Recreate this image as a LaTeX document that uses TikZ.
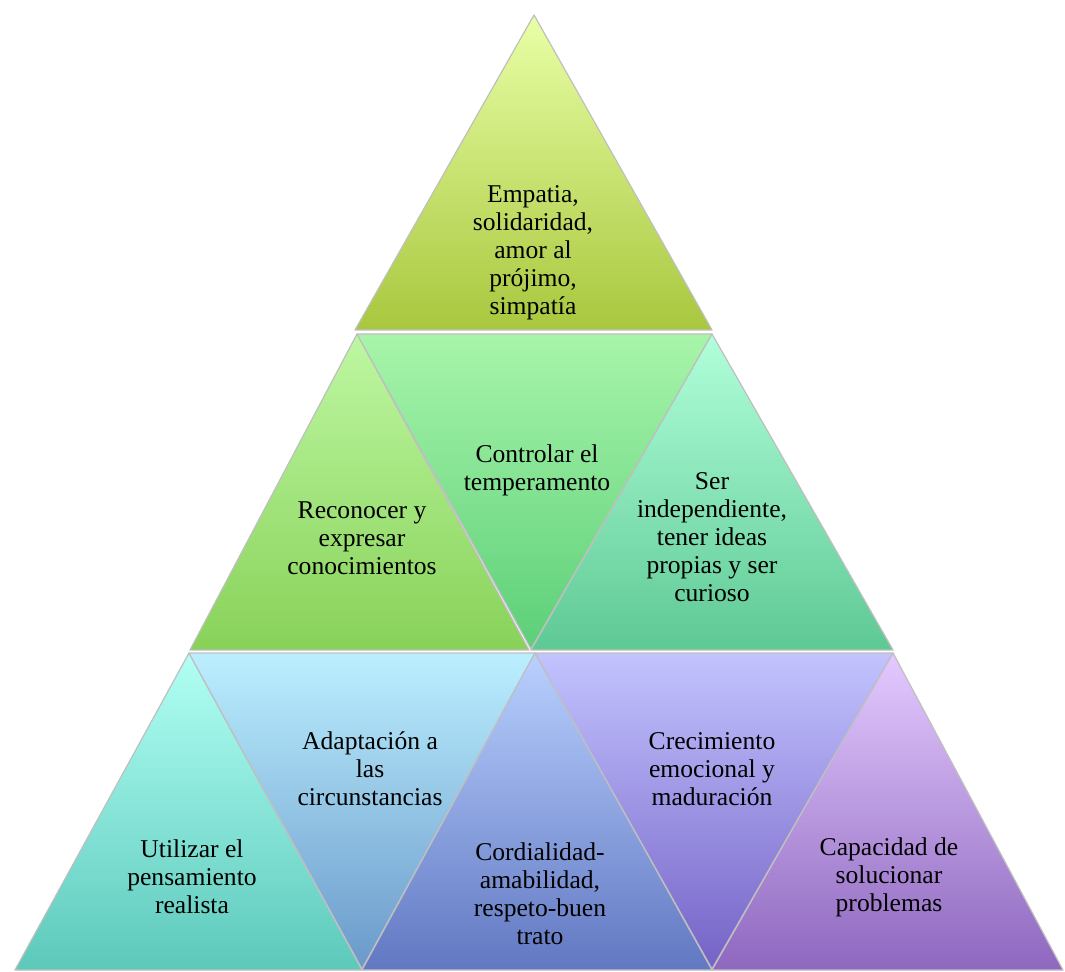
\documentclass[tikz,border=0pt]{standalone}
\usepackage{fontspec}
\setmainfont{Liberation Serif}
\definecolor{empT}{HTML}{E9FFA6}\definecolor{empB}{HTML}{A9C73E}
\definecolor{recT}{HTML}{BEF7A2}\definecolor{recB}{HTML}{88D259}
\definecolor{conT}{HTML}{A8F5AA}\definecolor{conB}{HTML}{5CCF78}
\definecolor{serT}{HTML}{B1FFDA}\definecolor{serB}{HTML}{5EC994}
\definecolor{utiT}{HTML}{B2FFF4}\definecolor{utiB}{HTML}{5CC9BB}
\definecolor{adaT}{HTML}{BBEFFF}\definecolor{adaB}{HTML}{6A99CA}
\definecolor{corT}{HTML}{B9D0FF}\definecolor{corB}{HTML}{6178C2}
\definecolor{creT}{HTML}{C3C3FF}\definecolor{creB}{HTML}{7462C6}
\definecolor{capT}{HTML}{E4CAFF}\definecolor{capB}{HTML}{8E67BF}
\begin{document}
\begin{tikzpicture}[x=0.5pt,y=-0.5pt,line join=round]
				\tikzset{tri/.style={draw=black!25,line width=0.6pt},
					lbl/.style={align=center,inner sep=0pt,font=\fontsize{12.8}{14}\selectfont}}
				\useasboundingbox (0,0) rectangle (1065,972);
				% top row
				\shade[tri,top color=empT,bottom color=empB] (534,15)--(712,330)--(355,330)--cycle;
				% middle row
				\shade[tri,top color=recT,bottom color=recB] (357,334)--(529,650)--(190,650)--cycle;
				\shade[tri,top color=conT,bottom color=conB] (357,334)--(712,334)--(531,649)--cycle;
				\shade[tri,top color=serT,bottom color=serB] (712,334)--(893,650)--(531,650)--cycle;
				% bottom row
				\shade[tri,top color=utiT,bottom color=utiB] (189,653)--(362,970)--(15,970)--cycle;
				\shade[tri,top color=adaT,bottom color=adaB] (189,653)--(535,653)--(362,969)--cycle;
				\shade[tri,top color=corT,bottom color=corB] (535,653)--(712,970)--(362,970)--cycle;
				\shade[tri,top color=creT,bottom color=creB] (535,653)--(893,653)--(712,969)--cycle;
				\shade[tri,top color=capT,bottom color=capB] (893,653)--(1063,970)--(712,970)--cycle;
				% labels
				\node[lbl] (emp) at (533,253) {Empatia,\\solidaridad,\\amor al\\prójimo,\\simpatía};
				\node[lbl] (rec) at (362,538) {Reconocer y\\expresar\\conocimientos};
				\node[lbl] (con) at (537,470) {Controlar el\\temperamento};
				\node[lbl] (ser) at (712,537) {Ser\\independiente,\\tener ideas\\propias y ser\\curioso};
				\node[lbl] (uti) at (192,877) {Utilizar el\\pensamiento\\realista};
				\node[lbl] (ada) at (370,769) {Adaptación a\\las\\circunstancias};
				\node[lbl] (cor) at (540,894) {Cordialidad-\\amabilidad,\\respeto-buen\\trato};
				\node[lbl] (cre) at (712,769) {Crecimiento\\emocional y\\maduración};
				\node[lbl] (cap) at (889,877) {Capacidad de\\solucionar\\problemas};
			\end{tikzpicture}
\end{document}
